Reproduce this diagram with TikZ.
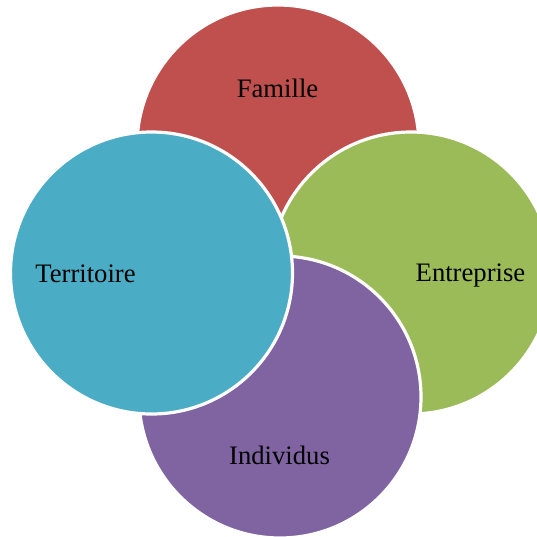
\documentclass[tikz,border=0pt]{standalone}
\usepackage{fontspec}
\setmainfont{Liberation Serif}
\usepackage{tikz}
\usetikzlibrary{positioning}

\definecolor{familleRed}{RGB}{192,80,77}
\definecolor{entrepriseGreen}{RGB}{155,187,89}
\definecolor{individusPurple}{RGB}{128,100,162}
\definecolor{territoireBlue}{RGB}{75,172,198}

\tikzset{
    disc/.style={circle, draw=white, line width=2.4pt, inner sep=0pt, minimum size=211.5pt},
    label text/.style={anchor=base, font=\fontsize{20}{24}\selectfont, text=black, inner sep=0pt}
}

\begin{document}
\begin{tikzpicture}[x=0.75pt,y=0.75pt,yscale=-1,xscale=1]
    %set diagram to 537 x 537 and cut what falls outside
    \path[use as bounding box, clip] (0,0) rectangle (537,537);

    %Shape: Circle [famille]
    \node [disc, fill=familleRed] (famille) at (278,146) {};
    %Shape: Circle [entreprise]
    \node [disc, fill=entrepriseGreen] (entreprise) at (411,273) {};
    %Shape: Circle [individus]
    \node [disc, fill=individusPurple] (individus) at (280,397) {};
    %Shape: Circle [territoire]
    \node [disc, fill=territoireBlue] (territoire) at (151.5,273) {};

    % Text Node
    \node [label text] (familleText) at (277.5,97) {Famille};
    % Text Node
    \node [label text] (entrepriseText) at (470.5,281) {Entreprise};
    % Text Node
    \node [label text] (individusText) at (279.5,464) {Individus};
    % Text Node
    \node [label text] (territoireText) at (85.5,282) {Territoire};

\end{tikzpicture}
\end{document}
